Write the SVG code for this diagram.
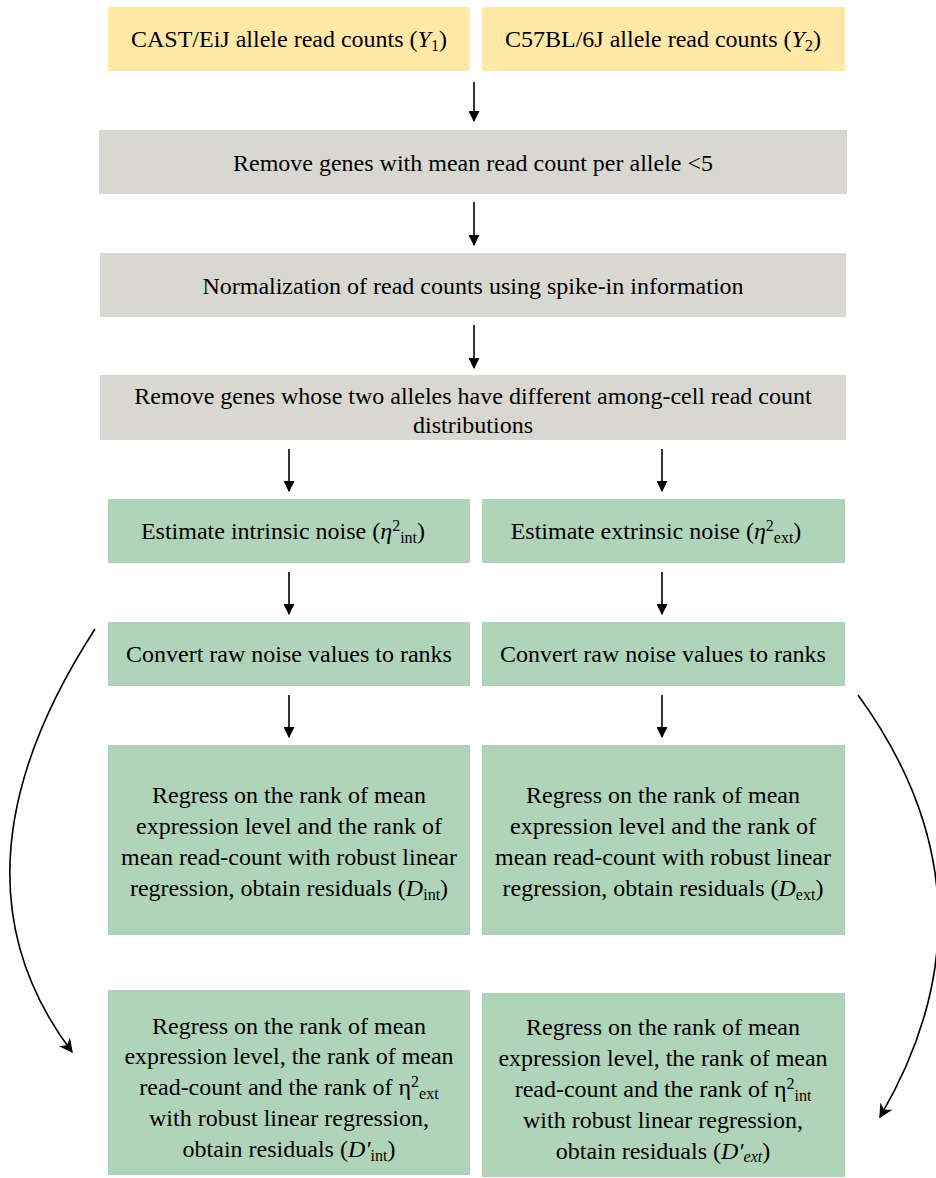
<svg xmlns="http://www.w3.org/2000/svg" width="936" height="1178" viewBox="0 0 936 1178">
<defs>
<style>
text{font-family:'Liberation Serif','Times New Roman',Tinos,'DejaVu Serif','Noto Serif',serif;font-size:24px;fill:#000;text-anchor:middle}
.y{fill:#FFE8A8}
.g{fill:#D9D7D2}
.n{fill:#B0D4BA}
.c{stroke:#000;stroke-width:1.6;fill:none}
.s{font-size:16px}
.i{font-style:italic}
</style>
<marker id="ah" viewBox="0 0 10 10" refX="9" refY="5" markerWidth="11" markerHeight="11" orient="auto" markerUnits="userSpaceOnUse">
<path d="M0,0 L10,5 L0,10 z" fill="#000"/>
</marker>
<marker id="ah2" viewBox="0 0 10 10" refX="9" refY="5" markerWidth="14" markerHeight="14" orient="auto" markerUnits="userSpaceOnUse">
<path d="M0,0 L10,5 L0,10 L3,5 z" fill="#000"/>
</marker>
</defs>
<rect width="936" height="1178" fill="#fff"/>
<g id="n1"><rect class="y" x="108" y="7" width="362" height="64"/><text x="289" y="47">CAST/EiJ allele read counts (<tspan class="i">Y</tspan><tspan class="s" dy="4">1</tspan><tspan dy="-4">)</tspan></text></g>
<g id="n2"><rect class="y" x="482" y="7" width="363" height="64"/><text x="663" y="47">C57BL/6J allele read counts (<tspan class="i">Y</tspan><tspan class="s" dy="4">2</tspan><tspan dy="-4">)</tspan></text></g>
<g id="n3"><rect class="g" x="99" y="130" width="748" height="64"/><text x="473" y="171">Remove genes with mean read count per allele &lt;5</text></g>
<g id="n4"><rect class="g" x="100" y="253" width="746" height="64"/><text x="473" y="294">Normalization of read counts using spike-in information</text></g>
<g id="n5"><rect class="g" x="100" y="375" width="746" height="65"/><text x="473" y="404">Remove genes whose two alleles have different among-cell read count</text><text x="473" y="433">distributions</text></g>
<g id="n6"><rect class="n" x="108" y="499" width="362" height="64"/><text x="283" y="539">Estimate intrinsic noise (<tspan class="i">η</tspan><tspan class="s" dy="-8">2</tspan><tspan class="s" dy="12">int</tspan><tspan dy="-4">)</tspan></text></g>
<g id="n7"><rect class="n" x="482" y="499" width="363" height="64"/><text x="656" y="539">Estimate extrinsic noise (<tspan class="i">η</tspan><tspan class="s" dy="-8">2</tspan><tspan class="s" dy="12">ext</tspan><tspan dy="-4">)</tspan></text></g>
<g id="n8"><rect class="n" x="108" y="622" width="362" height="64"/><text x="289" y="662">Convert raw noise values to ranks</text></g>
<g id="n9"><rect class="n" x="482" y="622" width="363" height="64"/><text x="663" y="662">Convert raw noise values to ranks</text></g>
<g id="n10"><rect class="n" x="108" y="745" width="362" height="190"/>
<text x="289" y="803">Regress on the rank of mean</text>
<text x="289" y="834">expression level and the rank of</text>
<text x="289" y="865">mean read-count with robust linear</text>
<text x="289" y="896">regression, obtain residuals (<tspan class="i">D</tspan><tspan class="s" dy="4">int</tspan><tspan dy="-4">)</tspan></text></g>
<g id="n11"><rect class="n" x="482" y="745" width="363" height="190"/>
<text x="663" y="803">Regress on the rank of mean</text>
<text x="663" y="834">expression level and the rank of</text>
<text x="663" y="865">mean read-count with robust linear</text>
<text x="663" y="896">regression, obtain residuals (<tspan class="i">D</tspan><tspan class="s" dy="4">ext</tspan><tspan dy="-4">)</tspan></text></g>
<g id="n12"><rect class="n" x="108" y="990" width="362" height="185"/>
<text x="289" y="1034">Regress on the rank of mean</text>
<text x="289" y="1064">expression level, the rank of mean</text>
<text x="289" y="1095">read-count and the rank of η<tspan class="s" dy="-8">2</tspan><tspan class="s" dy="12">ext</tspan></text>
<text x="289" y="1126">with robust linear regression,</text>
<text x="289" y="1157">obtain residuals (<tspan class="i">D′</tspan><tspan class="s" dy="4">int</tspan><tspan dy="-4">)</tspan></text></g>
<g id="n13"><rect class="n" x="482" y="993" width="363" height="184"/>
<text x="663" y="1035">Regress on the rank of mean</text>
<text x="663" y="1066">expression level, the rank of mean</text>
<text x="663" y="1097">read-count and the rank of η<tspan class="s" dy="-8">2</tspan><tspan class="s" dy="12">int</tspan></text>
<text x="663" y="1128">with robust linear regression,</text>
<text x="663" y="1159">obtain residuals (<tspan class="i">D′</tspan><tspan class="i s" dy="3">ext</tspan><tspan dy="-3">)</tspan></text></g>
<g id="connectors">
<line class="c" x1="474" y1="82" x2="474" y2="121" marker-end="url(#ah)"/>
<line class="c" x1="474" y1="202" x2="474" y2="245" marker-end="url(#ah)"/>
<line class="c" x1="474" y1="325" x2="474" y2="368" marker-end="url(#ah)"/>
<line class="c" x1="289" y1="449" x2="289" y2="491" marker-end="url(#ah)"/>
<line class="c" x1="662" y1="449" x2="662" y2="491" marker-end="url(#ah)"/>
<line class="c" x1="289" y1="572" x2="289" y2="614" marker-end="url(#ah)"/>
<line class="c" x1="662" y1="572" x2="662" y2="614" marker-end="url(#ah)"/>
<line class="c" x1="289" y1="695" x2="289" y2="737" marker-end="url(#ah)"/>
<line class="c" x1="662" y1="695" x2="662" y2="737" marker-end="url(#ah)"/>
<path class="c" d="M95,629 Q-63,873 72,1052" marker-end="url(#ah2)"/>
<path class="c" d="M858,695 Q1007,900 880,1117" marker-end="url(#ah2)"/>
</g>
</svg>
